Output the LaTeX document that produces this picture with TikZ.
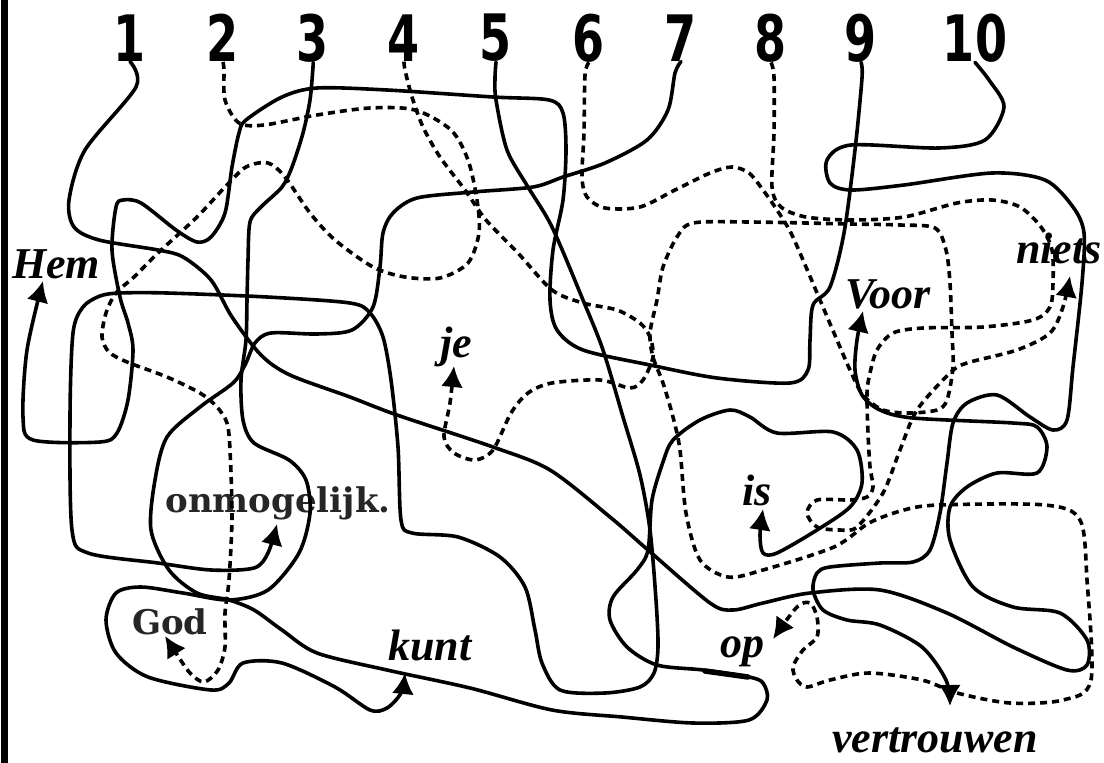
\documentclass[tikz,border=0pt]{standalone}
\usepackage{fontspec}
\usepackage{tikz}
\usetikzlibrary{arrows.meta}
\newfontfamily\wordfont{Liberation Serif}
\newfontfamily\numfont{DejaVu Sans}
\newfontfamily\plainfont{DejaVu Serif}
\newcommand{\narrow}[1]{\scalebox{0.72}[1]{#1}}

\begin{document}
\begin{tikzpicture}[x=1pt, y=-1pt, line join=round, line cap=round]

		% Define styles
		\tikzstyle{number} = [font=\numfont\bfseries\fontsize{64}{64}\selectfont, inner sep=0pt]
		\tikzstyle{word} = [font=\wordfont\bfseries\itshape\fontsize{44}{44}\selectfont, inner sep=0pt]
		\tikzstyle{plainword} = [font=\plainfont\bfseries\fontsize{34}{34}\selectfont, text=black!85, inner sep=0pt]
		\tikzstyle{wire} = [black, line width=3.6pt, -{Latex[length=21pt,width=22pt]}]
		\tikzstyle{dashwire} = [wire, line cap=butt, dash pattern=on 7pt off 5pt]

		\useasboundingbox[fill=white] (0,0) rectangle (1104,763);
		\fill[black] (1,0) rectangle (8,763);

		% Numbers
		\node[number] (n1) at (130,38) {\narrow{1}};
		\node[number] (n2) at (223,38) {\narrow{2}};
		\node[number] (n3) at (313,38) {\narrow{3}};
		\node[number] (n4) at (404,38) {\narrow{4}};
		\node[number] (n5) at (496,38) {\narrow{5}};
		\node[number] (n6) at (589,38) {\narrow{6}};
		\node[number] (n7) at (681,38) {\narrow{7}};
		\node[number] (n8) at (771,38) {\narrow{8}};
		\node[number] (n9) at (861,38) {\narrow{9}};
		\node[number] (n10) at (975,38) {\narrow{10}};

		% Words
		\node[word] (hem) at (56,264) {Hem};
		\node[word] (je) at (456,347) {je};
		\node[word] (voor) at (888,294) {Voor};
		\node[word] (niets) at (1059,248) {niets};
		\node[word] (is) at (757,490) {is};
		\node[plainword] (onm) at (278,503) {onmogelijk.};
		\node[plainword] (god) at (170,622) {God};
		\node[word] (kunt) at (430,645) {kunt};
		\node[word] (op) at (742,652) {op};
		\node[word] (vertr) at (935,740) {vertrouwen};

		% Solid lines
		\draw[wire] plot[smooth, tension=0.5] coordinates {(n1.south) (136,87) (85,150) (69,200) (74,227) (99,240) (158,250) (183,257) (211,280) (232,317) (261,355) (290,375) (350,397) (397,415) (493,447) (550,470) (610,517) (648,550) (710,603) (733,610) (763,603) (810,593) (880,590) (947,613) (1013,647) (1067,670) (1087,665) (1087,640) (1060,613) (1013,607) (973,587) (950,540) (950,507) (967,487) (997,473) (1037,473) (1047,447) (1037,427) (1013,423) (913,418) (880,410) (862,395) (855,370) (857,340) (863,311)};
		\draw[wire] plot[smooth, tension=0.5] coordinates {(n3.south) (313,67) (310,100) (303,133) (292,167) (282,187) (261,207) (250,222) (248,260) (247,300) (246,340) (241,380) (243,420) (254,443) (289,460) (306,480) (310,513) (299,553) (268,590) (229,600) (183,593) (141,587) (116,593) (106,620) (116,653) (148,677) (211,690) (229,683) (243,663) (282,663) (335,687) (370,710) (387,708) (401,693) (405,673)};
		\draw[wire] plot[smooth, tension=0.5] coordinates {(n5.south) (495,78) (496,100) (507,150) (528,187) (552,227) (583,300) (603,350) (623,417) (640,475) (650,530) (656,600) (658,647) (654,673) (640,687) (605,693) (560,690) (542,663) (535,630) (525,587) (500,557) (458,537) (412,533) (401,520) (398,447) (391,380) (383,337) (370,313) (350,303) (267,297) (167,293) (120,293) (100,296) (83,307) (73,333) (70,417) (72,530) (88,553) (158,563) (211,570) (254,568) (268,553) (277,524)};
		\draw[wire] plot[smooth, tension=0.5] coordinates {(n7.south) (675,73) (668,110) (647,140) (605,163) (563,177) (533,187) (473,192) (417,198) (393,213) (383,233) (380,267) (373,307) (352,330) (317,334) (271,333) (255,343) (245,365) (233,383) (200,407) (167,437) (155,480) (151,530) (169,570) (197,593) (229,600) (254,610) (282,630) (317,653) (387,670) (470,688) (552,710) (622,717) (693,723) (749,720) (767,700) (763,683) (749,677) (703,670) (657,665) (627,647) (610,620) (613,597) (637,570) (648,550) (652,500) (663,462) (673,440) (700,420) (730,410) (750,417) (777,433) (833,432) (857,450) (862,483) (850,507) (817,530) (777,553) (763,553) (760,535) (763,509)};
		\draw[wire] plot[smooth, tension=0.5] coordinates {(n9.south) (862,78) (855,150) (844,233) (830,287) (813,305) (810,340) (808,370) (790,383) (717,378) (650,365) (583,350) (557,330) (550,300) (553,250) (563,200) (566,150) (563,113) (549,100) (493,97) (387,90) (317,88) (282,97) (246,120) (239,133) (232,167) (225,213) (211,237) (197,242) (176,230) (141,203) (123,200) (116,207) (112,250) (120,297) (128,323) (133,350) (128,400) (117,433) (100,442) (33,440) (23,417) (27,350) (43,281)};
		\draw[wire] plot[smooth, tension=0.5] coordinates {(n10.south) (989,80) (1004,107) (985,140) (939,148) (851,145) (827,160) (830,183) (851,190) (904,185) (992,173) (1045,180) (1073,207) (1084,233) (1082,283) (1073,367) (1067,420) (1053,430) (1030,417) (997,395) (967,403) (953,423) (947,463) (940,513) (930,550) (913,562) (880,563) (830,567) (817,573) (813,590) (823,610) (847,620) (880,625) (922,647) (946,680) (950,706)};
		\draw[black, line width=5.5pt] (705,671) -- (748,677);

		% Dashed lines
		\draw[dashwire] plot[smooth, tension=0.5] coordinates {(n2.south) (224,70) (225,100) (239,123) (264,125) (317,115) (370,108) (415,110) (451,130) (468,160) (477,200) (479,233) (468,263) (440,278) (405,277) (373,267) (335,240) (310,213) (285,177) (268,163) (246,167) (225,187) (197,217) (158,253) (134,277) (116,293) (106,313) (102,337) (109,352) (127,362) (167,377) (200,393) (217,407) (227,423) (230,450) (232,517) (229,580) (225,613) (225,647) (218,670) (204,682) (190,673) (176,653) (165,636)};
		\draw[dashwire] plot[smooth, tension=0.5] coordinates {(n4.south) (405,70) (412,97) (423,127) (440,157) (465,190) (486,220) (518,253) (552,290) (583,303) (617,310) (640,323) (650,337) (653,357) (643,380) (630,388) (600,380) (552,383) (528,393) (511,413) (493,450) (475,460) (454,453) (444,437) (450,403) (454,366)};
		\draw[dashwire] plot[smooth, tension=0.5] coordinates {(n6.south) (585,75) (584,133) (582,177) (587,197) (605,208) (640,207) (675,190) (710,173) (732,167) (749,173) (763,190) (777,210) (791,233) (806,267) (820,300) (834,333) (850,370) (863,395) (883,410) (910,413) (937,410) (947,400) (953,367) (952,333) (950,283) (946,250) (935,228) (900,225) (851,224) (750,222) (693,223) (677,237) (663,267) (657,300) (650,333) (653,357) (663,383) (673,417) (680,450) (686,513) (700,560) (728,577) (763,570) (834,547) (869,523) (904,510) (939,505) (1045,505) (1080,520) (1087,580) (1091,680) (1063,700) (1010,703) (957,693) (922,680) (869,673) (830,680) (807,687) (797,680) (793,667) (803,650) (817,637) (817,617) (810,603) (797,607) (773,639)};
		\draw[dashwire] plot[smooth, tension=0.5] coordinates {(n8.south) (774,77) (774,133) (772,187) (781,207) (806,217) (851,220) (904,217) (957,203) (992,200) (1020,207) (1041,227) (1052,250) (1053,283) (1050,307) (1033,320) (983,327) (923,328) (893,333) (877,350) (870,373) (867,393) (868,433) (870,467) (873,487) (867,497) (850,500) (817,500) (807,513) (817,527) (840,530) (857,527) (883,493) (900,450) (917,410) (950,373) (967,363) (1017,350) (1050,333) (1063,307) (1070,276)};

	\end{tikzpicture}
\end{document}
